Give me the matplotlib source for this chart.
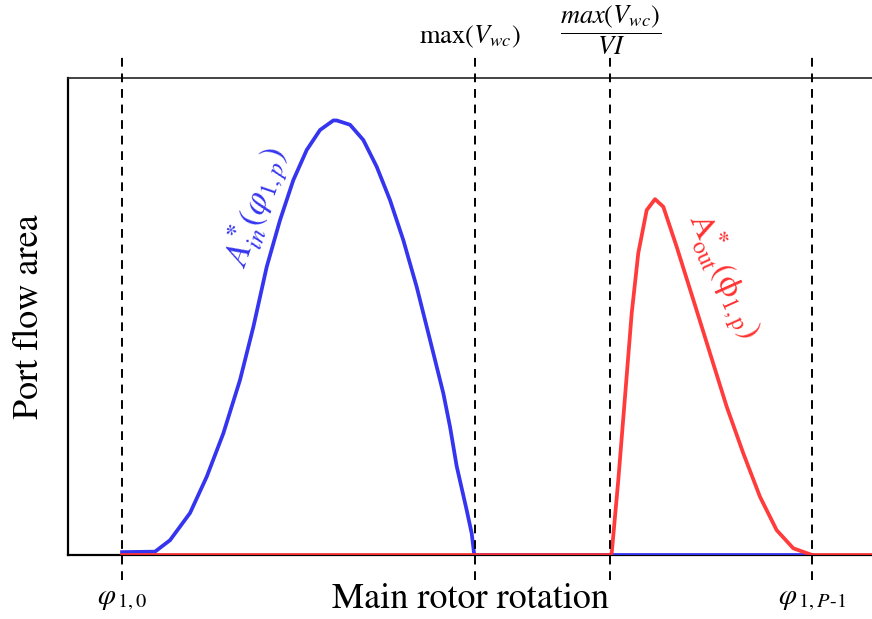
import numpy as np
import matplotlib
matplotlib.use("Agg")
import matplotlib.pyplot as plt

plt.rcParams['font.family'] = ['STIXGeneral', 'DejaVu Serif']
plt.rcParams['mathtext.fontset'] = 'stix'

# rotation angle (arbitrary units) of the key positions
phi_10 = 10.75
max_vwc = 81.0
max_vwc_vi = 107.9
phi_p1 = 148.1
x_end = 160.0

# inlet port flow area
in_x = [10.75, 17.31, 20.30, 24.28, 27.60, 30.91, 34.23, 36.88, 39.54, 42.19,
        44.84, 47.50, 50.15, 52.80, 53.47, 56.12, 58.77, 61.43, 64.08, 66.73,
        69.39, 72.04, 74.69, 76.02, 77.35, 79.34, 80.34, 80.80, 81.0, 148.1]
in_y = [0.006, 0.007, 0.031, 0.088, 0.164, 0.255, 0.367, 0.478, 0.604, 0.702,
        0.786, 0.849, 0.891, 0.911, 0.911, 0.902, 0.870, 0.814, 0.744, 0.660,
        0.562, 0.451, 0.339, 0.269, 0.186, 0.094, 0.045, 0.004, 0.0, 0.0]

# outlet port flow area
out_x = [10.75, 107.86, 108.20, 109.51, 110.85, 112.18, 113.49, 115.16, 116.82,
         118.47, 121.13, 124.44, 127.76, 131.08, 134.39, 137.71, 141.03, 144.34,
         147.00, 148.1, 160.0]
out_y = [0.0, 0.0, 0.004, 0.157, 0.332, 0.507, 0.633, 0.723, 0.746,
         0.730, 0.646, 0.535, 0.423, 0.311, 0.213, 0.122, 0.052, 0.014,
         0.004, 0.0, 0.0]

fig = plt.figure(figsize=(8.72, 6.19), dpi=100)
ax = fig.add_axes([0.078, 0.1034, 0.922, 0.7706])

ax.plot(in_x, in_y, color='#3535f0', lw=2.7, solid_joinstyle='round', zorder=3)
ax.plot(out_x, out_y, color='#ff3030', lw=2.7, alpha=0.95, solid_joinstyle='round', zorder=4)

for xv in [phi_10, max_vwc, max_vwc_vi, phi_p1]:
    ax.axvline(xv, ymin=-0.052, ymax=1.048, color='black', lw=1.4,
               ls=(0, (4.5, 3.5)), clip_on=False, zorder=5)

ax.set_xlim(0, x_end)
ax.set_ylim(0, 1)
ax.set_xticks([])
ax.set_yticks([])
ax.spines['right'].set_visible(False)
ax.spines['left'].set_linewidth(1.6)
ax.spines['bottom'].set_linewidth(1.6)
ax.spines['top'].set_linewidth(1.2)
ax.spines['top'].set_color('#222222')

ax.set_xlabel("Main rotor rotation", fontsize=26, labelpad=20)
ax.set_ylabel("Port flow area", fontsize=26, labelpad=16)

# position labels
ax.text(phi_10, -0.095, r'$\varphi_{\,1,0}$', fontsize=21, ha='center', va='center')
ax.text(phi_p1, -0.095, r'$\varphi_{\,1,P\text{-}1}$', fontsize=21, ha='center', va='center')
ax.text(max_vwc - 1, 1.086, r'max$\mathit{(V_{wc})}$', fontsize=19, ha='center', va='center')
ax.text(max_vwc_vi, 1.10, r'$\dfrac{\mathit{max(V_{wc})}}{VI}$', fontsize=19,
        ha='center', va='center')

# curve labels
ax.text(37.5, 0.73, r'$A^{\mathbf{*}}_{in}(\varphi_{1,p})$', color='#3535f0',
        fontsize=25, rotation=71, ha='center', va='center')
ax.text(130.5, 0.585, r'$\mathrm{A}^{\mathbf{*}}_{\mathrm{out}}(\mathrm{\phi}_{\mathrm{1,p}})$',
        color='#ff3030', fontsize=24, rotation=-66, ha='center', va='center')

fig.savefig("out.png", dpi=100)
